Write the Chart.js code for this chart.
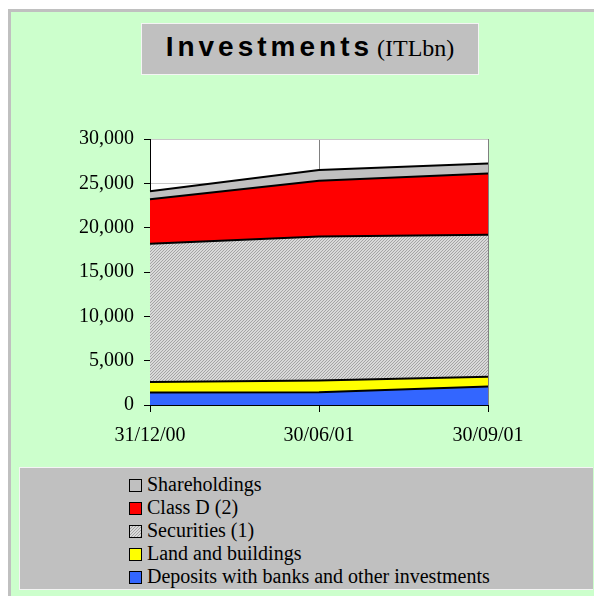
<!DOCTYPE html>
<html>
<head>
<meta charset="utf-8">
<script src="https://cdn.jsdelivr.net/npm/chart.js@4/dist/chart.umd.min.js"></script>
<style>
  body { margin: 0; background: #fff; width: 594px; height: 596px; overflow: hidden; position: relative; }
  #frame { position: absolute; left: 8px; top: 9px; width: 583px; height: 584px;
           border-top: 3px solid #c0c0c0; border-left: 3px solid #c0c0c0; background: #ccffcc; }
  #title { position: absolute; left: 141px; top: 23px; width: 336px; height: 50px;
           background: #c0c0c0; border: 1px solid #f4f4f4; text-align: center; line-height: 54px; white-space: nowrap; overflow: hidden; }
  #title .big { font: bold 28px "Liberation Sans", Arial, sans-serif; letter-spacing: 4px; }
  #title .small { font: 24px "Liberation Serif", "Times New Roman", serif; margin-left: 4px; }
  #chart { position: absolute; left: 0; top: 0; }
  #legend { position: absolute; left: 19px; top: 467px; width: 574px; height: 123px;
            background: #c0c0c0; border-top: 1px solid #f4f4f4; border-left: 1px solid #f4f4f4; border-bottom: 1px solid #f4f4f4;
            box-sizing: border-box; padding: 5px 0 0 109px; font: 20px "Liberation Serif", "Times New Roman", serif; color: #000; }
  #legend .row { height: 23px; line-height: 23px; white-space: nowrap; }
  #legend .box { display: inline-block; width: 11px; height: 11px; border: 1px solid #000; vertical-align: -1px; margin-right: 5px; }
</style>
</head>
<body>
<div id="frame"></div>
<div id="title"><span class="big">Investments</span><span class="small">(ITLbn)</span></div>
<canvas id="chart" width="594" height="596"></canvas>
<div id="legend"></div>
<script>
// values, ITL billions
var dates = ['31/12/00', '30/06/01', '30/09/01'];
var deposits = [1400, 1450, 2100];
var land = [1200, 1300, 1100];
var securities = [15600, 16250, 16000];
var classD = [5000, 6300, 6900];
var shareholdings = [900, 1200, 1150];

// fine hatch for securities
var pc = document.createElement('canvas');
pc.width = 3; pc.height = 3;
var pctx = pc.getContext('2d');
pctx.fillStyle = '#d9d9d9';
pctx.fillRect(0, 0, 3, 3);
pctx.fillStyle = '#a4a4a4';
for (var i = 0; i < 3; i++) {
    pctx.fillRect(i, 2 - i, 1, 1);
}
var hatch = document.getElementById('chart').getContext('2d').createPattern(pc, 'repeat');

var series = [
    { label: 'Deposits with banks and other investments', data: deposits, color: '#3366ff' },
    { label: 'Land and buildings', data: land, color: '#ffff00' },
    { label: 'Securities (1)', data: securities, color: hatch, css: 'url(' + pc.toDataURL() + ')' },
    { label: 'Class D (2)', data: classD, color: '#ff0000' },
    { label: 'Shareholdings', data: shareholdings, color: '#c0c0c0' }
];

var datasets = [];
for (var i = 0; i < series.length; i++) {
    datasets.push({
        label: series[i].label,
        data: series[i].data,
        backgroundColor: series[i].color,
        borderColor: '#000',
        borderWidth: 2,
        pointRadius: 0,
        tension: 0,
        fill: i == 0 ? 'origin' : '-1'
    });
}

var plotBg = {
    id: 'plotBg',
    beforeDraw: function (chart) {
        var a = chart.chartArea;
        chart.ctx.save();
        chart.ctx.fillStyle = '#fff';
        chart.ctx.fillRect(a.left, a.top, a.right - a.left, a.bottom - a.top);
        chart.ctx.restore();
    }
};

var tickFont = { family: '"Liberation Serif", "Times New Roman", serif', size: 20 };

var ctx = document.getElementById('chart').getContext('2d');
var chart = new Chart(ctx, {
    type: 'line',
    data: { labels: dates, datasets: datasets },
    plugins: [plotBg],
    options: {
        responsive: false,
        animation: false,
        devicePixelRatio: 1,
        layout: { padding: { left: 0, top: 139, right: 106, bottom: 151 } },
        plugins: { legend: { display: false }, tooltip: { enabled: false } },
        scales: {
            x: {
                offset: false,
                afterFit: function (s) { s.height = 40; },
                grid: { offset: false, color: '#808080', tickColor: '#000', tickLength: 7 },
                border: { color: '#000', width: 1 },
                ticks: { color: '#000', padding: 12, maxRotation: 0, font: tickFont }
            },
            y: {
                stacked: true,
                min: 0, max: 30000,
                afterFit: function (s) { s.width = 150; },
                grid: { color: '#c8c8c8', tickColor: '#000', tickLength: 6 },
                border: { color: '#000', width: 1 },
                ticks: { stepSize: 5000, color: '#000', padding: 10, font: tickFont,
                         callback: function (v) { return v.toLocaleString('en-US'); } }
            }
        }
    }
});

// legend, top series first
var legend = document.getElementById('legend');
for (var i = series.length - 1; i >= 0; i--) {
    var row = document.createElement('div');
    row.className = 'row';
    var box = document.createElement('span');
    box.className = 'box';
    if (series[i].css) box.style.backgroundImage = series[i].css;
    else box.style.background = series[i].color;
    row.appendChild(box);
    row.appendChild(document.createTextNode(series[i].label));
    legend.appendChild(row);
}
</script>
</body>
</html>
